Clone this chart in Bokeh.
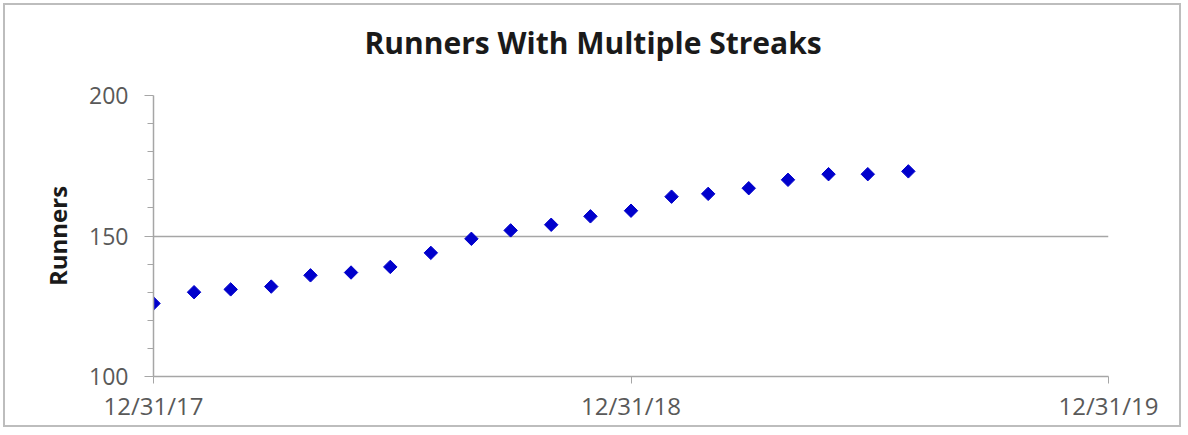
import pandas as pd
from bokeh.plotting import figure
from bokeh.models import (Range1d, FixedTicker, DatetimeTickFormatter,
                          ColumnDataSource, Title)
from bokeh.embed import file_html
from bokeh.resources import INLINE

# ---- data ----
dates = ["2017-12-31", "2018-01-31", "2018-02-28", "2018-03-31", "2018-04-30",
         "2018-05-31", "2018-06-30", "2018-07-31", "2018-08-31", "2018-09-30",
         "2018-10-31", "2018-11-30", "2018-12-31", "2019-01-31", "2019-02-28",
         "2019-03-31", "2019-04-30", "2019-05-31", "2019-06-30", "2019-07-31"]
runners = [126, 130, 131, 132, 136, 137, 139, 144, 149, 152,
           154, 157, 159, 164, 165, 167, 170, 172, 172, 173]
x_ticks = ["2017-12-31", "2018-12-31", "2019-12-31"]
y_ticks = [100, 150, 200]
y_minor = [110, 120, 130, 140, 160, 170, 180, 190]
title_text = "Runners With Multiple Streaks"
y_label = "Runners"

xd = pd.to_datetime(dates)
xt = [pd.Timestamp(t).value // 10**6 for t in x_ticks]
src = ColumnDataSource(dict(x=xd, y=runners))

FONT = "Open Sans"
GRAY = "#a6a6a6"

p = figure(width=1178, height=424, x_axis_type="datetime",
           output_backend="svg", toolbar_location=None,
           x_range=Range1d(xt[0], xt[-1]), y_range=Range1d(100, 200),
           min_border_left=148, min_border_right=75,
           min_border_top=90, min_border_bottom=53)
p.styles = {"border": "2px solid #bdbdbd", "margin-left": "3px",
            "margin-top": "3px"}
p.outline_line_color = None
p.background_fill_color = "white"
p.border_fill_color = "white"

# spacer between frame and title
p.add_layout(Title(text=" ", text_font_size="10px", standoff=15), "above")

p.title.text = title_text
p.title.align = "left"
p.title.offset = 211
p.title.vertical_align = "bottom"
p.title.standoff = 10
p.title.text_font = FONT
p.title.text_font_size = "30px"
p.title.text_font_style = "bold"
p.title.text_color = "#1a1a1a"

p.scatter("x", "y", source=src, marker="square", angle=0.785398,
          size=9.5, fill_color="#0000CC", line_color="#0000CC")

# x axis
xa = p.xaxis[0]
xa.ticker = FixedTicker(ticks=xt, minor_ticks=[])
fmt = "%m/%d/%y"
xa.formatter = DatetimeTickFormatter(
    microseconds=fmt, milliseconds=fmt, seconds=fmt, minsec=fmt, minutes=fmt,
    hourmin=fmt, hours=fmt, days=fmt, months=fmt, years=fmt)
xa.axis_line_color = GRAY
xa.axis_line_width = 1.5
xa.major_tick_line_color = GRAY
xa.major_tick_out = 7
xa.major_tick_in = 0
xa.minor_tick_line_color = None
xa.major_label_text_font = FONT
xa.major_label_text_font_size = "24px"
xa.major_label_text_color = "#595959"
xa.major_label_standoff = 5

# y axis
ya = p.yaxis[0]
ya.ticker = FixedTicker(ticks=y_ticks, minor_ticks=y_minor)
ya.axis_line_color = GRAY
ya.axis_line_width = 1.5
ya.major_tick_line_color = GRAY
ya.major_tick_out = 9
ya.major_tick_in = 0
ya.minor_tick_line_color = GRAY
ya.minor_tick_out = 6
ya.minor_tick_in = 0
ya.major_label_text_font = FONT
ya.major_label_text_font_size = "23px"
ya.major_label_text_color = "#595959"
ya.major_label_standoff = 16
ya.axis_label = y_label
ya.axis_label_text_font = FONT
ya.axis_label_text_font_size = "24px"
ya.axis_label_text_font_style = "bold"
ya.axis_label_text_color = "#1a1a1a"
ya.axis_label_standoff = 12

p.xgrid.grid_line_color = None
p.ygrid.grid_line_color = GRAY
p.ygrid.grid_line_width = 1.5

open("out.html", "w").write(file_html(p, INLINE))
